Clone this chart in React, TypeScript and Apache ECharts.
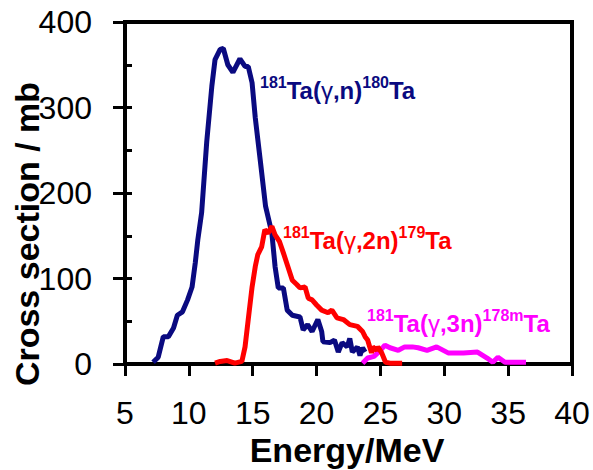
import React, { useEffect, useRef } from "react";
import * as echarts from "echarts";

// Energy (MeV) and cross section (mb)
const nEnergy = [7.2, 7.6, 8.0, 8.4, 8.8, 9.1, 9.5, 9.9, 10.25, 10.5, 10.7, 11.0, 11.4, 11.8, 12.05, 12.45, 12.7, 13.05, 13.45, 14.0, 14.4, 14.65, 14.95, 15.2, 15.6, 16.0, 16.5, 16.75, 17.0, 17.4, 17.7, 18.1, 18.7, 18.95, 19.3, 19.65, 20.1, 20.4, 20.5, 21.05, 21.4, 21.7, 22.0, 22.4, 22.6, 22.8, 23.2, 23.4, 23.6, 23.8];
const nSigma = [2, 8, 32, 32, 42, 57, 61, 75, 90, 118, 145, 177, 260, 325, 356, 368, 369, 350, 341, 357, 348, 348, 329, 288, 237, 185, 153, 114, 89, 89, 63, 57, 55, 40, 46, 38, 52, 38, 26, 25, 28, 14, 25, 20, 30, 14, 20, 10, 19, 14];

const twoNEnergy = [12.05, 12.45, 13.0, 13.6, 14.15, 14.4, 14.65, 14.95, 15.2, 15.4, 15.7, 15.95, 16.2, 16.5, 16.75, 17.1, 17.4, 17.75, 18.1, 18.45, 18.7, 19.1, 19.35, 19.65, 20.0, 20.4, 20.9, 21.2, 21.6, 22.1, 22.6, 23.2, 23.6, 23.8, 24.0, 24.3, 24.4, 24.7, 24.8, 25.1, 25.4, 25.75, 26.7];
const twoNSigma = [1, 3, 4, 1, 3, 20, 52, 90, 114, 128, 137, 157, 153, 161, 151, 143, 130, 114, 98, 93, 89, 90, 77, 75, 69, 63, 60, 63, 54, 52, 46, 44, 38, 32, 28, 13, 20, 16, 20, 13, 2, 1, 1];

const threeNEnergy = [23.6, 24.0, 24.5, 25.0, 25.35, 25.75, 26.4, 26.9, 27.5, 27.95, 28.65, 29.4, 30.3, 31.5, 32.6, 33.35, 33.8, 34.2, 34.75, 35.9, 36.4];
const threeNSigma = [1, 7, 9, 16, 22, 19, 16, 20, 20, 19, 16, 20, 13, 13, 14, 7, 2, 8, 2, 2, 2];

const xTicks = { min: 5, max: 40, step: 5 };
const yTicks = { min: 0, max: 400, step: 100, minorStep: 50 };

const BLUE = "#0a0a80";
const RED = "#ff0000";
const MAGENTA = "#ff00ff";
const FONT = "Liberation Sans, Arial, sans-serif";

const pairs = (xs: number[], ys: number[]) => xs.map((x, i) => [x, ys[i]]);

const makeRich = (color: string) => ({
  s: { fontSize: 16, fontWeight: "bold", fill: color, fontFamily: FONT, lineHeight: 16, verticalAlign: "top" },
  m: { fontSize: 24, fontWeight: "bold", fill: color, fontFamily: FONT, lineHeight: 28, verticalAlign: "bottom" },
  g: { fontSize: 24, fontWeight: "normal", fill: color, fontFamily: FONT, lineHeight: 28, verticalAlign: "bottom" },
});

export default function App() {
  const ref = useRef<HTMLDivElement>(null);
  useEffect(() => {
    if (!ref.current) return;
    const chart = echarts.init(ref.current, null, { renderer: "svg" });
    const lineSeries = (name: string, data: number[][], color: string) => ({
      name,
      type: "line",
      data,
      showSymbol: false,
      symbol: "none",
      lineStyle: { color, width: 5 },
      itemStyle: { color },
      z: 3,
    });
    chart.setOption({
      animation: false,
      backgroundColor: "#ffffff",
      grid: {
        left: 125,
        right: 21,
        top: 22,
        bottom: 106,
        show: true,
        borderColor: "#000",
        borderWidth: 4,
        backgroundColor: "transparent",
      },
      xAxis: {
        type: "value",
        min: xTicks.min,
        max: xTicks.max,
        interval: xTicks.step,
        axisLine: { onZero: false, lineStyle: { color: "#000", width: 4 } },
        axisTick: { show: true, length: 12, lineStyle: { color: "#000", width: 3 } },
        axisLabel: { fontSize: 32, color: "#000", fontFamily: FONT, margin: 33 },
        splitLine: { show: false },
      },
      yAxis: [
        {
          type: "value",
          min: yTicks.min,
          max: yTicks.max,
          interval: yTicks.step,
          axisLine: { show: true, onZero: false, lineStyle: { color: "#000", width: 4 } },
          axisTick: { show: true, length: 12, lineStyle: { color: "#000", width: 3 } },
          axisLabel: { fontSize: 32, color: "#000", fontFamily: FONT, margin: 33 },
          splitLine: { show: false },
        },
        {
          type: "value",
          position: "left",
          min: yTicks.min,
          max: yTicks.max,
          interval: yTicks.minorStep,
          axisLine: { show: false },
          axisTick: { show: true, inside: true, length: 7, lineStyle: { color: "#000", width: 3 } },
          axisLabel: { show: false },
          splitLine: { show: false },
        },
      ],
      series: [
        lineSeries("181Ta(γ,n)180Ta", pairs(nEnergy, nSigma), BLUE),
        lineSeries("181Ta(γ,3n)178mTa", pairs(threeNEnergy, threeNSigma), MAGENTA),
        lineSeries("181Ta(γ,2n)179Ta", pairs(twoNEnergy, twoNSigma), RED),
      ],
      graphic: [
        {
          type: "text",
          x: 347,
          y: 450,
          style: {
            text: "Energy/MeV",
            fontSize: 34,
            fontWeight: "bold",
            fontFamily: FONT,
            fill: "#000",
            align: "center",
            verticalAlign: "middle",
          },
        },
        {
          type: "text",
          x: 27,
          y: 234,
          rotation: Math.PI / 2,
          style: {
            text: "Cross section / mb",
            fontSize: 34,
            fontWeight: "bold",
            fontFamily: FONT,
            fill: "#000",
            align: "center",
            verticalAlign: "middle",
          },
        },
        {
          type: "text",
          x: 260,
          y: 74,
          z: 10,
          style: {
            text: "{s|181}{m|Ta(}{g|γ}{m|,n)}{s|180}{m|Ta}",
            rich: makeRich(BLUE),
            align: "left",
            verticalAlign: "top",
          },
        },
        {
          type: "text",
          x: 283,
          y: 224,
          z: 10,
          style: {
            text: "{s|181}{m|Ta(}{g|γ}{m|,2n)}{s|179}{m|Ta}",
            rich: makeRich(RED),
            align: "left",
            verticalAlign: "top",
          },
        },
        {
          type: "text",
          x: 367,
          y: 307,
          z: 10,
          style: {
            text: "{s|181}{m|Ta(}{g|γ}{m|,3n)}{s|178m}{m|Ta}",
            rich: makeRich(MAGENTA),
            align: "left",
            verticalAlign: "top",
          },
        },
      ],
    });
    return () => chart.dispose();
  }, []);
  return (
    <div
      ref={ref}
      style={{ position: "fixed", left: 0, top: 0, width: 593, height: 470, background: "#fff" }}
    />
  );
}
